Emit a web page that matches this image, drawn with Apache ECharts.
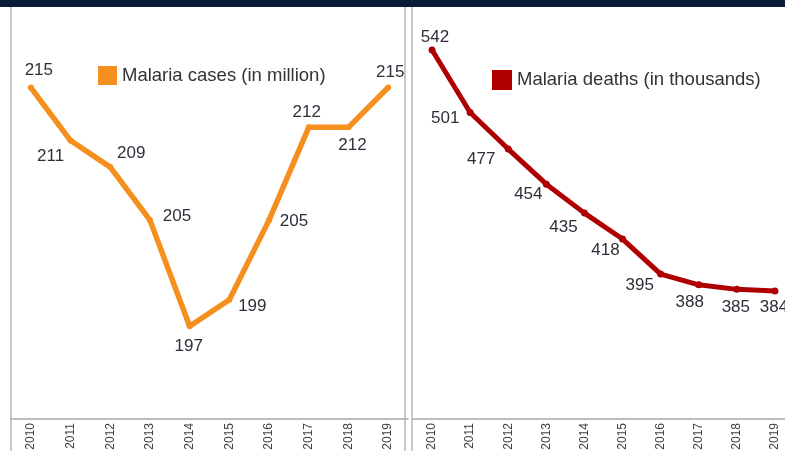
<!DOCTYPE html>
<html lang="en">
<head>
    <meta charset="UTF-8">
    <title>Malaria cases and deaths</title>
    <script src="https://cdn.jsdelivr.net/npm/echarts@6/dist/echarts.min.js"></script>
    <style>
        html, body { margin: 0; padding: 0; background: #fff; }
        #main { width: 785px; height: 451px; }
    </style>
</head>
<body>
<div id="main"></div>
<script type="text/javascript">
    // data
    var years = ['2010', '2011', '2012', '2013', '2014', '2015', '2016', '2017', '2018', '2019'];
    var cases = [215, 211, 209, 205, 197, 199, 205, 212, 212, 215];
    var deaths = [542, 501, 477, 454, 435, 418, 395, 388, 385, 384];

    // where each value label sits relative to its point
    var casesLabelOffset = [[8, -17], [-20, 16], [21, -14], [27, -4], [-1, 20], [23, 7], [25, 1], [-2, -15], [4, 18], [2, -15]];
    var deathsLabelOffset = [[3, -13], [-25, 6], [-27, 10], [-18, 10], [-21, 14], [-17, 11], [-21, 11], [-9, 18], [-1, 18], [-1, 16]];

    var font = '"Liberation Sans", Arial, sans-serif';

    function withLabels(values, offsets) {
        return values.map(function (v, i) {
            return { value: v, label: { offset: offsets[i] } };
        });
    }

    var myChart = echarts.init(document.getElementById('main'));

    var xAxisBase = {
        type: 'category',
        data: years,
        axisLine: { lineStyle: { color: '#a8a8a8', width: 1.5 } },
        axisTick: { show: false },
        axisLabel: { interval: 0, rotate: 90, fontSize: 12, color: '#404040', margin: 4, fontFamily: font }
    };

    var option = {
        backgroundColor: '#fff',
        animation: false,
        textStyle: { fontFamily: font },
        graphic: [
            { type: 'rect', shape: { x: 0, y: 0, width: 785, height: 7 }, style: { fill: '#0b1a38' }, z: 100 },
            { type: 'rect', shape: { x: 11, y: 6, width: 394, height: 470 }, style: { fill: 'none', stroke: '#b8b8b8', lineWidth: 1.5 }, z: -1 },
            { type: 'rect', shape: { x: 412, y: 6, width: 400, height: 470 }, style: { fill: 'none', stroke: '#b8b8b8', lineWidth: 1.5 }, z: -1 }
        ],
        legend: [{
            left: 93, top: 61,
            icon: 'rect', itemWidth: 19, itemHeight: 19,
            textStyle: { fontSize: 18.5, color: '#333' },
            data: ['Malaria cases (in million)']
        }, {
            left: 487, top: 65,
            icon: 'rect', itemWidth: 20, itemHeight: 20,
            textStyle: { fontSize: 18.5, color: '#333' },
            data: ['Malaria deaths (in thousands)']
        }],
        grid: [
            { left: 11, top: 8, width: 397, height: 411, outerBoundsMode: 'none' },
            { left: 413, top: 8, width: 381, height: 411, outerBoundsMode: 'none' }
        ],
        xAxis: [
            Object.assign({ gridIndex: 0 }, xAxisBase),
            Object.assign({ gridIndex: 1 }, xAxisBase)
        ],
        yAxis: [
            { gridIndex: 0, type: 'value', min: 190, max: 221, show: false },
            { gridIndex: 1, type: 'value', min: 300, max: 569.5, show: false }
        ],
        series: [{
            name: 'Malaria cases (in million)',
            type: 'line',
            xAxisIndex: 0, yAxisIndex: 0,
            data: withLabels(cases, casesLabelOffset),
            color: '#f5901f',
            symbol: 'circle', symbolSize: 6,
            lineStyle: { width: 5.5 },
            label: { show: true, position: 'inside', fontSize: 17, color: '#2f2f3a' }
        }, {
            name: 'Malaria deaths (in thousands)',
            type: 'line',
            xAxisIndex: 1, yAxisIndex: 1,
            data: withLabels(deaths, deathsLabelOffset),
            color: '#ae0000',
            symbol: 'circle', symbolSize: 7,
            lineStyle: { width: 5 },
            label: { show: true, position: 'inside', fontSize: 17, color: '#2f2f3a' }
        }]
    };

    myChart.setOption(option);
</script>
</body>
</html>
